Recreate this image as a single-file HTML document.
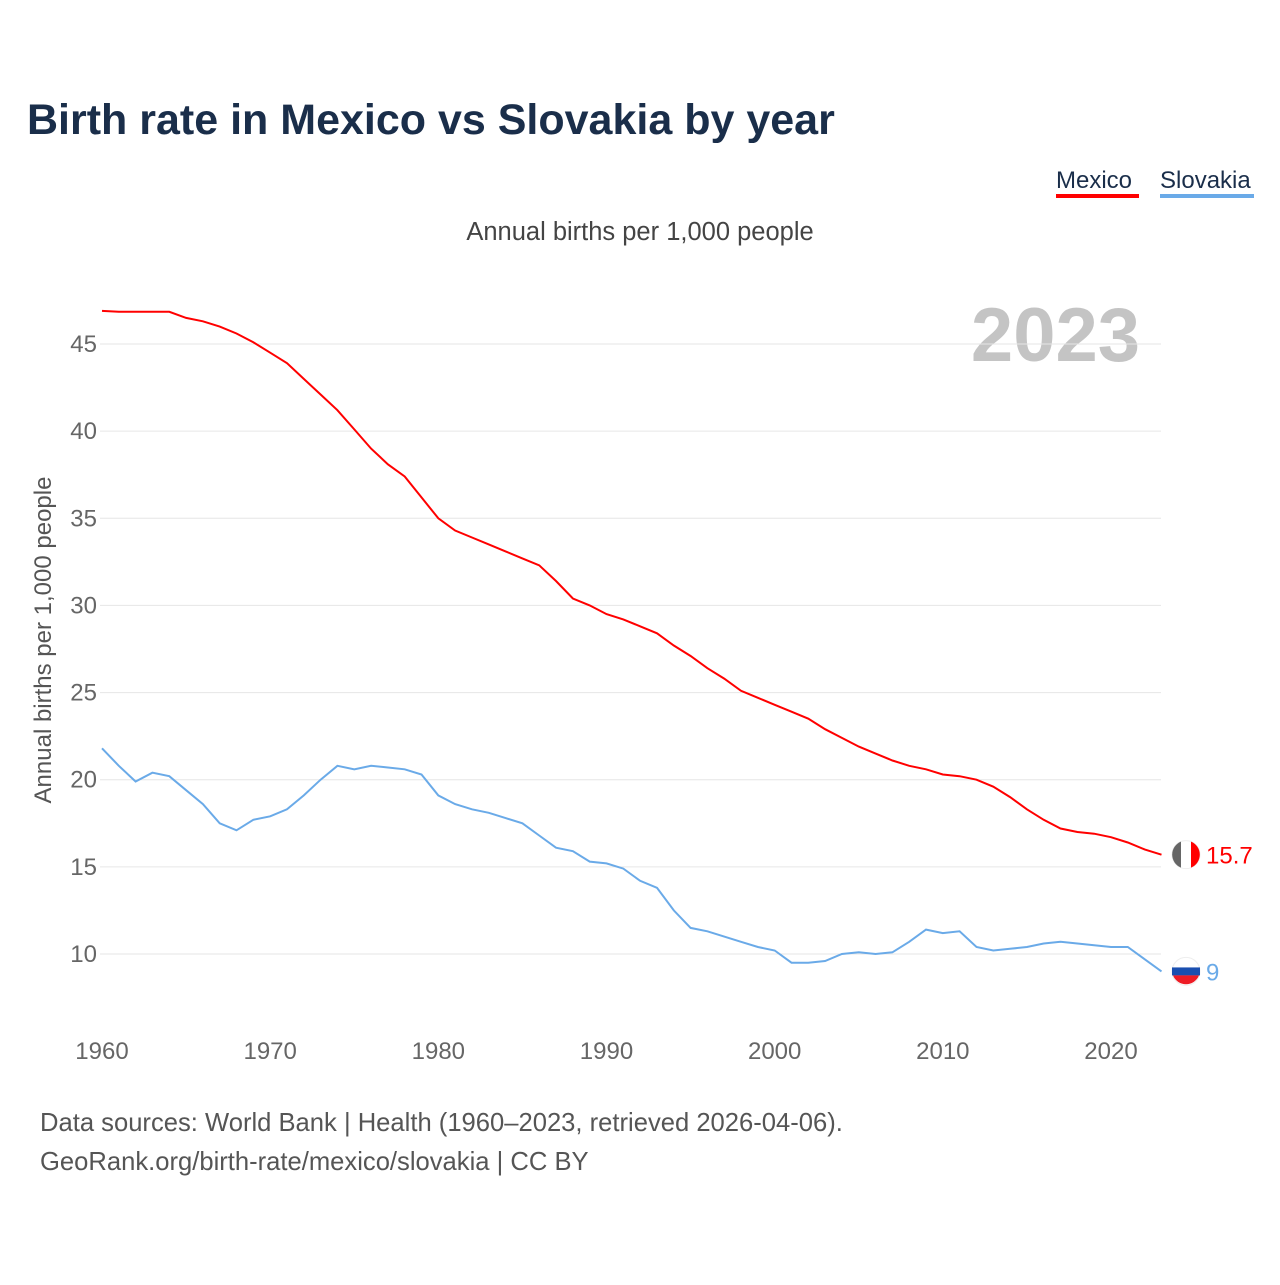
<!DOCTYPE html>
<html><head><meta charset="utf-8">
<style>
body{margin:0;background:#fff;width:1280px;height:1280px;overflow:hidden;font-family:"Liberation Sans",sans-serif;}
</style></head>
<body>
<svg id="chart" width="1280" height="1280" xmlns="http://www.w3.org/2000/svg">
<text x="27" y="134" font-size="43" font-weight="bold" fill="#1a2e4a">Birth rate in Mexico vs Slovakia by year</text>
<g>
 <text x="1056" y="188" font-size="24" fill="#1a2e4a">Mexico</text>
 <rect x="1056" y="194" width="83" height="4" fill="#ff0000"/>
 <text x="1160" y="188" font-size="24" fill="#1a2e4a">Slovakia</text>
 <rect x="1160" y="194" width="94" height="4" fill="#6aaae8"/>
</g>
<text x="640" y="240" font-size="25.5" fill="#444" text-anchor="middle">Annual births per 1,000 people</text>
<text x="1140" y="361" font-size="76" font-weight="bold" fill="#c4c4c4" text-anchor="end">2023</text>
<text transform="translate(51,640) rotate(-90)" font-size="24" fill="#555" text-anchor="middle">Annual births per 1,000 people</text>
<g id="grid"></g><g id="lines"></g>
<text x="40" y="1131" font-size="25.6" fill="#555">Data sources: World Bank | Health (1960–2023, retrieved 2026-04-06).</text>
<text x="40" y="1170" font-size="25.6" fill="#555">GeoRank.org/birth-rate/mexico/slovakia | CC BY</text>
</svg>
<script>
const years=[];for(let y=1960;y<=2023;y++)years.push(y);
const mexico=[46.9,46.85,46.85,46.85,46.85,46.5,46.3,46.0,45.6,45.1,44.5,43.9,43.0,42.1,41.2,40.1,39.0,38.1,37.4,36.2,35.0,34.3,33.9,33.5,33.1,32.7,32.3,31.4,30.4,30.0,29.5,29.2,28.8,28.4,27.7,27.1,26.4,25.8,25.1,24.7,24.3,23.9,23.5,22.9,22.4,21.9,21.5,21.1,20.8,20.6,20.3,20.2,20.0,19.6,19.0,18.3,17.7,17.2,17.0,16.9,16.7,16.4,16.0,15.7];
const slovakia=[21.8,20.8,19.9,20.4,20.2,19.4,18.6,17.5,17.1,17.7,17.9,18.3,19.1,20.0,20.8,20.6,20.8,20.7,20.6,20.3,19.1,18.6,18.3,18.1,17.8,17.5,16.8,16.1,15.9,15.3,15.2,14.9,14.2,13.8,12.5,11.5,11.3,11.0,10.7,10.4,10.2,9.5,9.5,9.6,10.0,10.1,10.0,10.1,10.7,11.4,11.2,11.3,10.4,10.2,10.3,10.4,10.6,10.7,10.6,10.5,10.4,10.4,9.7,9.0];
const yTicks=[10,15,20,25,30,35,40,45];
const xTicks=[1960,1970,1980,1990,2000,2010,2020];
const NS="http://www.w3.org/2000/svg";
const xs=y=>102+(y-1960)*(1111-102)/60;
const ys=v=>954-(v-10)*(610/35);
function mk(t,a,parent){const e=document.createElementNS(NS,t);for(const k in a)e.setAttribute(k,a[k]);parent.appendChild(e);return e;}
const grid=document.getElementById('grid'),lines=document.getElementById('lines');
yTicks.forEach(v=>{
 const l=mk('line',{x1:100,x2:1161,y1:ys(v),y2:ys(v),stroke:'#e6e6e6','stroke-width':1},grid);
 
 
 const t=mk('text',{x:97,y:ys(v)+8,'font-size':24,fill:'#666','text-anchor':'end'},grid);
 t.textContent=v;
 
 
});
xTicks.forEach(y=>{
 const t=mk('text',{x:xs(y),y:1059,'font-size':24,fill:'#666','text-anchor':'middle'},grid);
 t.textContent=y;
 
 
});
function series(vals,color,name){
 const d=vals.map((v,i)=>(i?'L':'M')+xs(years[i]).toFixed(1)+','+ys(v).toFixed(1)).join('');
 const p=mk('path',{d:d,fill:'none',stroke:color,'stroke-width':2},lines);
 
 
 const last=vals[vals.length-1],cx=1186,cy=ys(last);
 const c=mk('circle',{cx:cx,cy:cy,r:14,fill:'#ffffff',stroke:'#eee'},lines);
 
 
 if(name==='mexico'){
  const a=mk('path',{d:`M${cx-5},${cy-13}A14,14 0 0 0 ${cx-5},${cy+13}Z`,fill:'#666'},lines);
  
  const b=mk('path',{d:`M${cx+5},${cy-13}A14,14 0 0 1 ${cx+5},${cy+13}Z`,fill:'#ff0000'},lines);
  
 }else{
  const a=mk('rect',{x:cx-14,y:cy-4,width:28,height:8,fill:'#1a4fb0'},lines);
  
  const b=mk('path',{d:`M${cx-13},${cy+4}A14,14 0 0 0 ${cx+13},${cy+4}Z`,fill:'#ee1c25'},lines);
  
 }
 const t=mk('text',{x:1206,y:cy+9,'font-size':24,fill:color},lines);
 t.textContent=last;
 
 
}
series(mexico,'#ff0000','mexico');
series(slovakia,'#6aaae8','slovakia');
</script>
</body></html>
